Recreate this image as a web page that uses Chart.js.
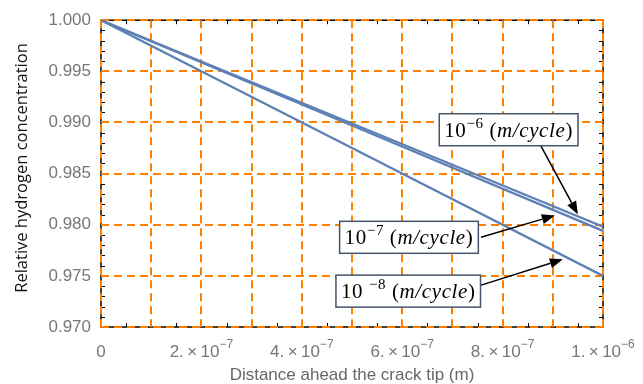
<!DOCTYPE html>
<html>
<head>
<meta charset="utf-8">
<script src="https://cdn.jsdelivr.net/npm/chart.js@4"></script>
<style>
  html, body { margin: 0; padding: 0; background: #fff; }
  #wrap { width: 643px; height: 384px; }
</style>
</head>
<body>
<div id="wrap"><canvas id="myChart"></canvas></div>
<script>
// 1. Data
const distance = [0, 5e-7, 1e-6];           // m
const conc1e6 = [1.0, 0.9899, 0.9798];      // 10^-6 m/cycle
const conc1e7 = [1.0, 0.9897, 0.9794];      // 10^-7 m/cycle
const conc1e8 = [1.0, 0.9875, 0.9750];      // 10^-8 m/cycle

const xLabelValues = [0, 2e-7, 4e-7, 6e-7, 8e-7, 1e-6];
const xLabelMantissa = ["0", "2.", "4.", "6.", "8.", "1."];
const xLabelExponent = ["", "−7", "−7", "−7", "−7", "−6"];

// annotation boxes (data coords): centre of box, arrow start, arrow tip
const notes = [
  { exp: "−6", sep: "", cx: 8.12e-7, cy: 0.98929, ax: 8.76e-7, ay: 0.98773, tx: 9.50e-7, ty: 0.98101 },
  { exp: "−7", sep: "", cx: 6.135e-7, cy: 0.97877, ax: 7.57e-7, ay: 0.97877, tx: 9.04e-7, ty: 0.98091 },
  { exp: "−8", sep: " ", cx: 6.12e-7, cy: 0.97351, ax: 7.51e-7, ay: 0.97400, tx: 9.20e-7, ty: 0.97662 }
];

const lineColor = "#5E81B5";
const gridColor = "#FF8000";
const toPts = ys => distance.map((x, i) => ({ x: x, y: ys[i] }));

// 2. Frame with inward ticks (drawn under the dashed grid)
const framePlugin = {
  id: "frame",
  beforeDraw(chart) {
    const { ctx, chartArea: a, scales: { x, y } } = chart;
    ctx.save();
    ctx.strokeStyle = "#000";
    ctx.lineWidth = 1.5;
    ctx.strokeRect(a.left, a.top, a.right - a.left, a.bottom - a.top);
    ctx.lineWidth = 1;
    ctx.beginPath();
    for (let i = 0; i <= 20; i++) {
      const px = Math.round(x.getPixelForValue(i * 5e-8)) + 0.5;
      const len = i % 2 === 0 ? 7 : 4;
      ctx.moveTo(px, a.bottom); ctx.lineTo(px, a.bottom - len);
      ctx.moveTo(px, a.top); ctx.lineTo(px, a.top + len);
    }
    for (let i = 0; i <= 30; i++) {
      const py = Math.round(y.getPixelForValue(0.97 + i * 0.001)) + 0.5;
      const len = i % 5 === 0 ? 7 : 4;
      ctx.moveTo(a.left, py); ctx.lineTo(a.left + len, py);
      ctx.moveTo(a.right, py); ctx.lineTo(a.right - len, py);
    }
    ctx.stroke();
    ctx.restore();
  }
};

// 3. Labels, titles and annotation boxes
function drawArrow(ctx, x0, y0, x1, y1) {
  const ang = Math.atan2(y1 - y0, x1 - x0);
  const hl = 13, hw = 5;
  const bx = x1 - hl * Math.cos(ang), by = y1 - hl * Math.sin(ang);
  ctx.beginPath();
  ctx.moveTo(x0, y0); ctx.lineTo(bx, by);
  ctx.stroke();
  ctx.beginPath();
  ctx.moveTo(x1, y1);
  ctx.lineTo(bx + hw * Math.sin(ang), by - hw * Math.cos(ang));
  ctx.lineTo(bx - hw * Math.sin(ang), by + hw * Math.cos(ang));
  ctx.closePath();
  ctx.fill();
}

const textPlugin = {
  id: "texts",
  afterDraw(chart) {
    const { ctx, chartArea: a, scales: { x, y } } = chart;
    ctx.save();

    // x tick labels with superscripts
    ctx.fillStyle = "#777";
    ctx.textBaseline = "alphabetic";
    ctx.textAlign = "left";
    xLabelValues.forEach((v, i) => {
      const base = xLabelExponent[i] ? xLabelMantissa[i] + "\u2009×\u200910" : xLabelMantissa[i];
      ctx.font = "17px 'Liberation Sans'";
      const w1 = ctx.measureText(base).width;
      ctx.font = "12px 'Liberation Sans'";
      const w2 = ctx.measureText(xLabelExponent[i]).width;
      const left = x.getPixelForValue(v) - (w1 + w2) / 2;
      ctx.font = "17px 'Liberation Sans'";
      ctx.fillText(base, left, 357);
      ctx.font = "12px 'Liberation Sans'";
      ctx.fillText(xLabelExponent[i], left + w1, 348);
    });

    // axis titles
    ctx.textAlign = "center";
    ctx.fillStyle = "#666";
    ctx.font = "17px 'Liberation Sans'";
    ctx.fillText("Distance ahead the crack tip (m)", (a.left + a.right) / 2, 380);

    ctx.save();
    ctx.translate(27, 168);
    ctx.rotate(-Math.PI / 2);
    ctx.fillStyle = "#111";
    ctx.font = "16.5px 'Open Sans'";
    ctx.fillText("Relative hydrogen concentration", 0, 0);
    ctx.restore();

    // annotation boxes with arrows
    notes.forEach(n => {
      const mainFont = "21px 'Liberation Serif'";
      const supFont = "15px 'Liberation Serif'";
      const itFont = "italic 21px 'Liberation Serif'";
      ctx.letterSpacing = "0.6px";
      const parts = [
        { t: "10" + n.sep, f: mainFont, dy: 0 },
        { t: n.exp, f: supFont, dy: -9 },
        { t: " (", f: mainFont, dy: 0 },
        { t: "m/cycle", f: itFont, dy: 0 },
        { t: ")", f: mainFont, dy: 0 }
      ];
      let total = 0;
      parts.forEach(p => { ctx.font = p.f; p.w = ctx.measureText(p.t).width; total += p.w; });
      const cx = x.getPixelForValue(n.cx), cy = y.getPixelForValue(n.cy);
      const bw = total + 10, bh = 32;

      ctx.strokeStyle = "#000";
      ctx.fillStyle = "#000";
      ctx.lineWidth = 1.5;
      drawArrow(ctx, x.getPixelForValue(n.ax), y.getPixelForValue(n.ay),
                x.getPixelForValue(n.tx), y.getPixelForValue(n.ty));

      ctx.fillStyle = "#fff";
      ctx.fillRect(cx - bw / 2, cy - bh / 2, bw, bh);
      ctx.strokeStyle = "#44546A";
      ctx.lineWidth = 1.5;
      ctx.strokeRect(cx - bw / 2, cy - bh / 2, bw, bh);

      ctx.fillStyle = "#000";
      ctx.textAlign = "left";
      let px = cx - total / 2;
      parts.forEach(p => {
        ctx.font = p.f;
        ctx.fillText(p.t, px, cy + 7 + p.dy);
        px += p.w;
      });
      ctx.letterSpacing = "0px";
    });

    ctx.restore();
  }
};

// 4. Chart
const ctx = document.getElementById("myChart").getContext("2d");
new Chart(ctx, {
  type: "line",
  data: {
    datasets: [
      { label: "1e-6", data: toPts(conc1e6) },
      { label: "1e-7", data: toPts(conc1e7) },
      { label: "1e-8", data: toPts(conc1e8) }
    ].map(d => Object.assign(d, {
      borderColor: lineColor,
      borderWidth: 2.3,
      pointRadius: 0,
      fill: false,
      tension: 0
    }))
  },
  options: {
    responsive: true,
    maintainAspectRatio: false,
    animation: false,
    layout: { padding: { top: 19, right: 40, left: 0, bottom: 0 } },
    plugins: { legend: { display: false }, tooltip: { enabled: false } },
    scales: {
      x: {
        type: "linear",
        min: 0,
        max: 1e-6,
        afterFit: s => { s.height = 57; },
        ticks: { stepSize: 1e-7, autoSkip: false, callback: () => "", maxRotation: 0 },
        grid: { color: gridColor, lineWidth: 2, drawTicks: false },
        border: { display: false, dash: [8, 5] }
      },
      y: {
        min: 0.97,
        max: 1.0,
        afterFit: s => { s.width = 101; },
        ticks: {
          stepSize: 0.005,
          padding: 10,
          color: "#777",
          font: { family: "'Liberation Sans'", size: 17 },
          callback: v => v.toFixed(3)
        },
        grid: { color: gridColor, lineWidth: 2, drawTicks: false },
        border: { display: false, dash: [8, 5] }
      }
    }
  },
  plugins: [framePlugin, textPlugin]
});
</script>
</body>
</html>
